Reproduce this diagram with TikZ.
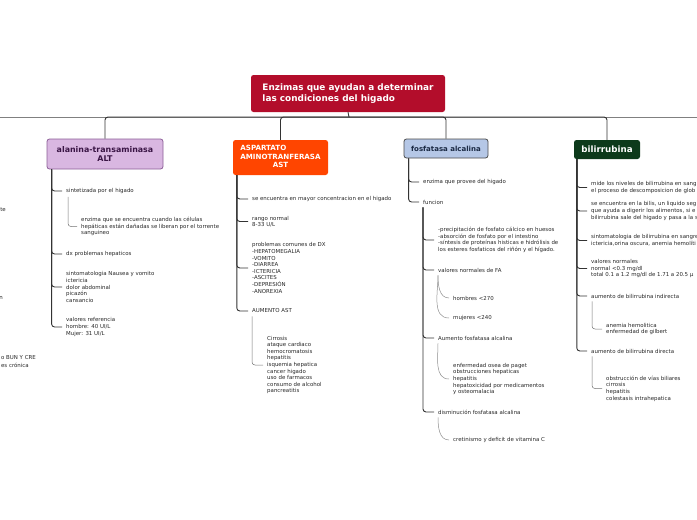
\documentclass[tikz,border=0pt]{standalone}
\usepackage{fontspec}
\setmainfont{DejaVu Sans}
\definecolor{rootred}{HTML}{B30D2B}
\definecolor{altfill}{HTML}{D9B7E1}
\definecolor{altline}{HTML}{8C5D97}
\definecolor{alttext}{HTML}{3A1545}
\definecolor{astfill}{HTML}{FF4500}
\definecolor{fosfill}{HTML}{B5C7E6}
\definecolor{fosline}{HTML}{4A4A4A}
\definecolor{fostext}{HTML}{1B2A44}
\definecolor{bilfill}{HTML}{0D3A1B}
\begin{document}
\begin{tikzpicture}[x=1pt,y=-1pt,
    topic/.style={rounded corners=2.5pt, inner sep=0pt},
    leaf/.style={font=\fontsize{5.45}{6.6}\selectfont, align=left, inner xsep=4pt, inner ysep=1pt, anchor=west, text=black!85},
    trunk/.style={draw=black!80, line width=0.9pt, rounded corners=3pt},
    twig/.style={draw=black!55, line width=0.5pt, rounded corners=3pt},
    curl/.style={draw=black!45, line width=0.5pt},
    farline/.style={draw=black!50, line width=1pt}]
    \useasboundingbox (0,0) rectangle (697,520);

    % central topic
    \node[topic, fill=rootred, text=white, minimum width=194pt, minimum height=37pt, align=left,
        font=\fontsize{8.9}{11}\selectfont\bfseries] (root) at (348,93.5)
        {Enzimas que ayudan a determinar\\las condiciones del higado};
    \coordinate (hub) at (349,117);
    \coordinate (farL) at (0,117);
    \coordinate (farR) at (697,117);

    % main topics
    \node[topic, fill=altfill, draw=altline, line width=0.8pt, text=alttext, minimum width=116pt, minimum height=30pt,
        align=center, font=\fontsize{7.9}{8.6}\selectfont\bfseries] (alt) at (105,154) {alanina-transaminasa\\ALT};
    \node[topic, fill=astfill, text=white, minimum width=95pt, minimum height=35pt,
        font=\fontsize{7.1}{8.6}\selectfont\bfseries] (ast) at (280.5,157.5)
        {\begin{tabular}{@{}l@{}}ASPARTATO\\AMINOTRANFERASA\\\multicolumn{1}{@{}c@{}}{AST}\end{tabular}};
    \node[topic, fill=fosfill, draw=fosline, line width=0.8pt, text=fostext, minimum width=84pt, minimum height=19pt,
        font=\fontsize{7}{8}\selectfont\bfseries] (fos) at (446,148.5) {fosfatasa alcalina};
    \node[topic, fill=bilfill, text=white, minimum width=66pt, minimum height=19pt,
        font=\fontsize{8.7}{9}\selectfont\bfseries] (bil) at (607,149.5) {bilirrubina};

    \draw[farline] (farL) -- (farR);
    \draw[trunk] (root.south) -- (hub);
    \draw[trunk] (hub) -| (alt.north);
    \draw[trunk] (hub) -| (ast.north);
    \draw[trunk] (hub) -| (fos.north);
    \draw[trunk] (hub) -| (bil.north);

    % alanina-transaminasa
    \node[leaf] (a1) at (62,191) {sintetizada por el higado};
    \node[leaf] (a1s) at (77,226.5) {enzima que se encuentra cuando las células\\hepáticas están dañadas se liberan por el torrente\\sanguineo};
    \node[leaf] (a2) at (62,254) {dx problemas hepaticos};
    \node[leaf] (a3) at (62,287) {sintomatologia Nausea y vomito\\ictericia\\dolor abdominal\\picazón\\cansancio};
    \node[leaf] (a4) at (62,327) {valores referencia\\hombre: 40 UI/L\\Mujer: 31 UI/L};
    \foreach \c in {a1,a2,a3,a4}
        \draw[trunk] ([xshift=5pt]alt.south west) |- (\c.west);
    \draw[twig] ([xshift=6pt,yshift=-2pt]a1.south west) |- (a1s.west);

    % aspartato aminotransferasa
    \node[leaf] (s1) at (248,199) {se encuentra en mayor concentracion en el higado};
    \node[leaf] (s2) at (248,221.5) {rango normal\\8-33 U/L};
    \node[leaf] (s3) at (248,268) {problemas comunes de DX\\-HEPATOMEGALIA\\-VOMITO\\-DIARREA\\-ICTERICIA\\-ASCITES\\-DEPRESIÓN\\-ANOREXIA};
    \node[leaf] (s4) at (248,311) {AUMENTO AST};
    \node[leaf] (s4s) at (263,365) {Cirrosis\\ataque cardiaco\\hemocromatosis\\hepatitis\\isquemia hepatica\\cancer higado\\uso de farmacos\\consumo de alcohol\\pancreatitis};
    \foreach \c in {s1,s2,s3,s4}
        \draw[trunk] ([xshift=4pt]ast.south west) |- (\c.west);
    \draw[twig] ([xshift=4pt,yshift=-2pt]s4.south west) |- (s4s.west);

    % fosfatasa alcalina
    \node[leaf] (f1) at (419,182) {enzima que provee del higado};
    \node[leaf] (f2) at (419,202) {funcion};
    \node[leaf] (f2a) at (434,240) {-precipitación de fosfato cálcico en huesos\\-absorción de fosfato por el intestino\\-síntesis de proteínas histicas e hidrólisis de\\los esteres fosfaticos del riñón y el hígado.};
    \node[leaf] (f2b) at (434,270) {valores normales de FA};
    \node[leaf] (f2b1) at (449,298) {hombres <270};
    \node[leaf] (f2b2) at (449,318) {mujeres <240};
    \node[leaf] (f2c) at (434,338) {Aumento fosfatasa alcalina};
    \node[leaf] (f2c1) at (449,379) {enfermedad osea de paget\\obstrucciones hepaticas\\hepatitis\\hepatoxicidad por medicamentos\\y osteomalacia};
    \node[leaf] (f2d) at (434,412) {disminución fosfatasa alcalina};
    \node[leaf] (f2d1) at (449,440) {cretinismo y deficit de vitamina C};
    \foreach \c in {f1,f2}
        \draw[trunk] ([xshift=5pt]fos.south west) |- (\c.west);
    \foreach \c in {f2a,f2b,f2c,f2d}
        \draw[trunk] ([xshift=4pt,yshift=-2pt]f2.south west) |- (\c.west);
    \foreach \p/\c in {f2b/f2b1,f2b/f2b2,f2c/f2c1,f2d/f2d1}
        \draw[curl] ([xshift=4pt,yshift=-2pt]\p.south west) to[out=-90,in=180] (\c.west);

    % bilirrubina
    \node[leaf] (b1) at (587,187.5) {mide los niveles de bilirrubina en sang\\el proceso de descomposicion de glob};
    \node[leaf] (b2) at (587,211) {se encuentra en la bilis, un liquido seg\\que ayuda a digerir los alimentos, si e\\bilirrubina sale del higado y pasa a la s};
    \node[leaf] (b3) at (587,240.5) {sintomatologia de bilirrubina en sangre\\ictericia,orina oscura, anemia hemolíti};
    \node[leaf] (b4) at (587,268.5) {valores normales\\normal <0.3 mg/dl\\total 0.1 a 1.2 mg/dl de 1.71 a 20.5 μ};
    \node[leaf] (b5) at (587,296) {aumento de bilirrubina indirecta};
    \node[leaf] (b5s) at (602,329) {anemia hemolitica\\enfermedad de gilbert};
    \node[leaf] (b6) at (587,351) {aumento de bilirrubina directa};
    \node[leaf] (b6s) at (602,388.5) {obstrucción de vías biliares\\cirrosis\\hepatitis\\colestasis intrahepatica};
    \foreach \c in {b1,b2,b3,b4,b5,b6}
        \draw[trunk] ([xshift=3pt]bil.south west) |- (\c.west);
    \draw[twig] ([xshift=5pt,yshift=-2pt]b5.south west) |- (b5s.west);
    \draw[twig] ([xshift=5pt,yshift=-2pt]b6.south west) |- (b6s.west);

    % pieces of branches beyond the left edge
    \node[leaf, anchor=east, inner xsep=0pt] (cutA) at (6,210) {te};
    \node[leaf, anchor=east, inner xsep=0pt] (cutB) at (3,298) {n};
    \node[leaf, anchor=east, inner xsep=0pt] (cutC) at (36,358) {o BUN Y CRE};
    \node[leaf, anchor=east, inner xsep=0pt] (cutD) at (29,365) {es crónica};
\end{tikzpicture}
\end{document}
